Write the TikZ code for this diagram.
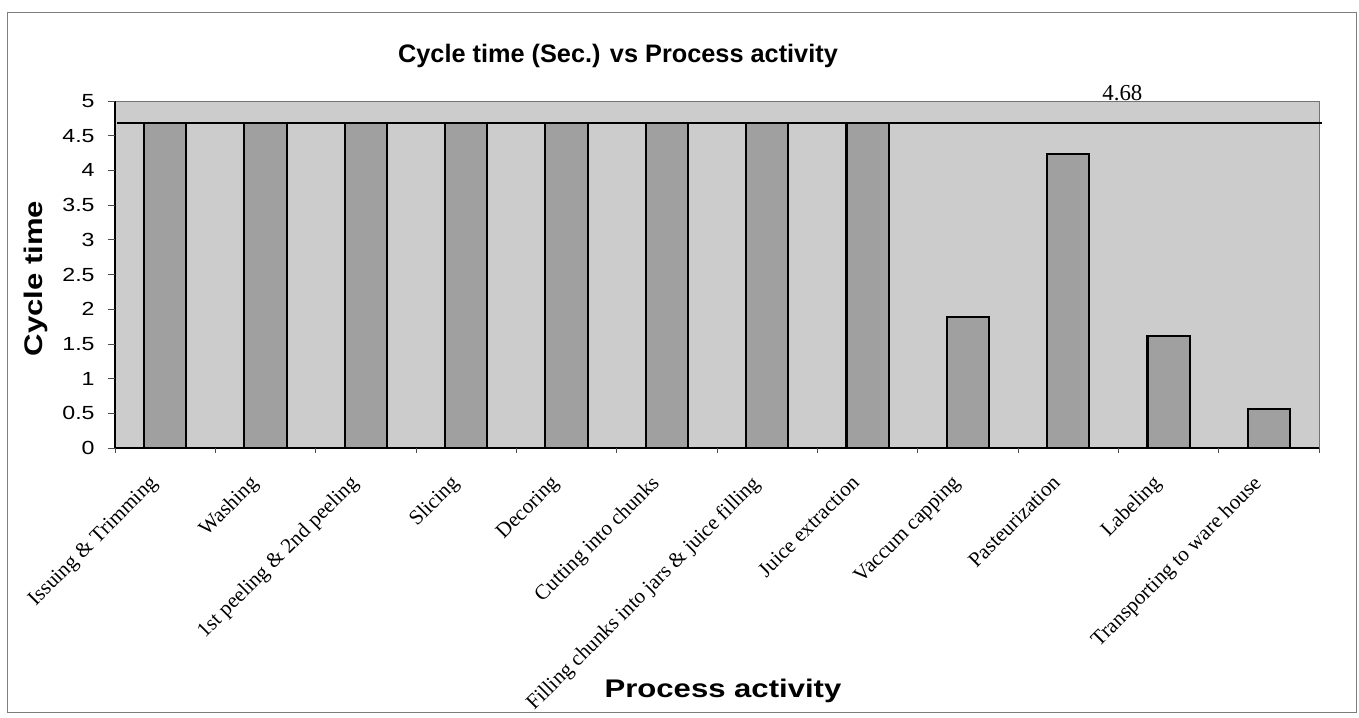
\documentclass[tikz,border=0pt]{standalone}
\usepackage{fontspec}
\setmainfont{Liberation Serif}
\newfontfamily\chartsans{Liberation Sans}
\newfontfamily\widesans[FakeStretch=1.22]{Liberation Sans}
\definecolor{plotgrey}{RGB}{204,204,204}
\definecolor{bargrey}{RGB}{160,160,160}
\definecolor{framegrey}{RGB}{125,125,125}

\begin{document}
\begin{tikzpicture}[
  bar/.style={draw=black, fill=bargrey, line width=1.2pt},
  ylab/.style={anchor=east, inner sep=0pt,
               font=\widesans\fontsize{10.8}{12}\selectfont},
  cat/.style={anchor=north east, rotate=45, inner sep=0pt,
              font=\fontsize{12}{14}\selectfont},
  axtitle/.style={anchor=base, inner sep=0pt,
                  font=\widesans\bfseries\fontsize{14.5}{17}\selectfont}
]
  \useasboundingbox (0,0) rectangle (27.18,14.34);
  \draw[framegrey, line width=0.5pt] (0.14,0.10) rectangle (27.13,14.10);

  \node[anchor=base, inner sep=0pt,
        font=\chartsans\bfseries\fontsize{14.4}{17}\selectfont]
    (title) at (12.36,13.08) {Cycle time (Sec.) vs Process activity};
  \node[axtitle, rotate=90] (ytitle) at (0.86,8.77) {Cycle time};
  \node[axtitle] (xtitle) at (14.46,0.38) {Process activity};

  % plot area: one x unit per activity, one y unit per second
  \begin{scope}[xshift=2.3cm, yshift=5.38cm, x=2.0067cm, y=1.388cm]
    \fill[plotgrey] (0,0) rectangle (12,5);
    \draw[black!55, line width=0.4pt] (0,5) -- (12,5) -- (12,0);

    \draw[bar] (0.29,0) rectangle (0.71,4.68);
    \draw[bar] (1.29,0) rectangle (1.71,4.68);
    \draw[bar] (2.29,0) rectangle (2.71,4.68);
    \draw[bar] (3.29,0) rectangle (3.71,4.68);
    \draw[bar] (4.29,0) rectangle (4.71,4.68);
    \draw[bar] (5.29,0) rectangle (5.71,4.68);
    \draw[bar] (6.29,0) rectangle (6.71,4.68);
    \draw[bar] (7.29,0) rectangle (7.71,4.68);
    \draw[bar] (8.29,0) rectangle (8.71,1.89);
    \draw[bar] (9.29,0) rectangle (9.71,4.24);
    \draw[bar] (10.29,0) rectangle (10.71,1.61);
    \draw[bar] (11.29,0) rectangle (11.71,0.56);

    % takt line
    \draw[line width=1.2pt] (0.02,4.68) -- (12.03,4.68);
    \node[anchor=base, inner sep=0pt, font=\fontsize{13}{15}\selectfont]
      (takt) at (10.04,5.01) {4.68};

    % axes and ticks
    \draw[line width=0.6pt] (0,5) -- (0,0) -- (12,0);
    \draw[black!70, line width=0.4pt]
      (0,0) -- (0,-0.072) (1,0) -- (1,-0.072) (2,0) -- (2,-0.072)
      (3,0) -- (3,-0.072) (4,0) -- (4,-0.072) (5,0) -- (5,-0.072)
      (6,0) -- (6,-0.072) (7,0) -- (7,-0.072) (8,0) -- (8,-0.072)
      (9,0) -- (9,-0.072) (10,0) -- (10,-0.072) (11,0) -- (11,-0.072)
      (12,0) -- (12,-0.072);
    \draw[black!70, line width=0.4pt]
      (-0.07,0) -- (0,0) (-0.07,0.5) -- (0,0.5) (-0.07,1) -- (0,1)
      (-0.07,1.5) -- (0,1.5) (-0.07,2) -- (0,2) (-0.07,2.5) -- (0,2.5)
      (-0.07,3) -- (0,3) (-0.07,3.5) -- (0,3.5) (-0.07,4) -- (0,4)
      (-0.07,4.5) -- (0,4.5) (-0.07,5) -- (0,5);

    \node[ylab] (y0)  at (-0.2,0)   {0};
    \node[ylab] (y05) at (-0.2,0.5) {0.5};
    \node[ylab] (y1)  at (-0.2,1)   {1};
    \node[ylab] (y15) at (-0.2,1.5) {1.5};
    \node[ylab] (y2)  at (-0.2,2)   {2};
    \node[ylab] (y25) at (-0.2,2.5) {2.5};
    \node[ylab] (y3)  at (-0.2,3)   {3};
    \node[ylab] (y35) at (-0.2,3.5) {3.5};
    \node[ylab] (y4)  at (-0.2,4)   {4};
    \node[ylab] (y45) at (-0.2,4.5) {4.5};
    \node[ylab] (y5)  at (-0.2,5)   {5};

    \node[cat] (issuing)   at (0.33,-0.37)  {Issuing \& Trimming};
    \node[cat] (washing)   at (1.33,-0.37)  {Washing};
    \node[cat] (peeling)   at (2.33,-0.37)  {1st peeling \& 2nd peeling};
    \node[cat] (slicing)   at (3.33,-0.37)  {Slicing};
    \node[cat] (decoring)  at (4.33,-0.37)  {Decoring};
    \node[cat] (cutting)   at (5.33,-0.37)  {Cutting into chunks};
    \node[cat] (filling)   at (6.33,-0.37)  {Filling chunks into jars \& juice filling};
    \node[cat] (juice)     at (7.33,-0.37)  {Juice extraction};
    \node[cat] (capping)   at (8.33,-0.37)  {Vaccum capping};
    \node[cat] (pasteur)   at (9.33,-0.37)  {Pasteurization};
    \node[cat] (labeling)  at (10.33,-0.37) {Labeling};
    \node[cat] (transport) at (11.33,-0.37) {Transporting to ware house};
  \end{scope}
\end{tikzpicture}
\end{document}
